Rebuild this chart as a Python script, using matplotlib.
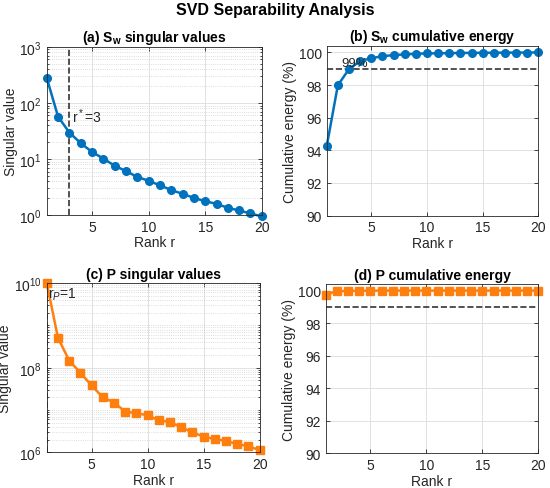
import matplotlib
matplotlib.use("Agg")
import matplotlib.pyplot as plt
from matplotlib.ticker import LogLocator, NullFormatter

# valeurs
rank = list(range(1, 21))
sw_sv = [280, 57, 29.7, 19.2, 13.4, 10.2, 7.6, 6.1, 4.8, 4.1,
         3.4, 2.8, 2.4, 2.03, 1.77, 1.59, 1.35, 1.21, 1.07, 0.95]
sw_cum = [94.25, 97.99, 98.98, 99.47, 99.65, 99.77, 99.84, 99.88, 99.92, 99.94,
          99.95, 99.96, 99.97, 99.975, 99.98, 99.985, 99.99, 99.993, 99.997, 100.0]
p_sv = [1.0e10, 5.1e8, 1.48e8, 7.6e7, 3.8e7, 2.0e7, 1.5e7, 9.2e6, 8.4e6, 7.5e6,
        5.7e6, 5.2e6, 3.9e6, 2.97e6, 2.35e6, 2.06e6, 1.85e6, 1.57e6, 1.39e6, 1.13e6]
p_cum = [99.75, 99.96, 99.98, 99.99, 99.995, 100, 100, 100, 100, 100,
         100, 100, 100, 100, 100, 100, 100, 100, 100, 100]
r_star = 3
r_p = 1
threshold = 99

blue = "#0072BD"
orange = "#FF7F0E"
txt = "#262626"

plt.rcParams["font.family"] = ["Liberation Sans", "DejaVu Sans"]
plt.rcParams["mathtext.fontset"] = "custom"
plt.rcParams["mathtext.rm"] = "Liberation Sans"
plt.rcParams["mathtext.it"] = "Liberation Sans:italic"
plt.rcParams["mathtext.bf"] = "Liberation Sans:bold"
plt.rcParams["font.size"] = 10


def style(ax, logy=False):
    for s in ax.spines.values():
        s.set_color("#262626")
        s.set_linewidth(0.6)
    ax.tick_params(direction="in", top=True, right=True, colors=txt,
                   labelsize=10, length=3, width=0.6)
    ax.grid(True, which="major", color="#dcdcdc", linewidth=0.6)
    if logy:
        ax.yaxis.set_minor_locator(LogLocator(base=10, subs=range(1, 10), numticks=20))
        ax.yaxis.set_minor_formatter(NullFormatter())
        ax.grid(True, which="minor", axis="y", color="#d0d0d0",
                linestyle=":", linewidth=0.6)
        ax.tick_params(which="minor", direction="in", right=True, length=1.5, width=0.5)
    ax.set_axisbelow(True)
    ax.set_xlim(1, 20)
    ax.set_xticks([5, 10, 15, 20])
    ax.set_xlabel("Rank r", color=txt, labelpad=1)


fig = plt.figure(figsize=(5.5, 4.89), dpi=100)
fig.suptitle("SVD Separability Analysis", fontsize=11.5, fontweight="bold", y=0.993)

# (a)
ax1 = fig.add_axes([0.085, 0.558, 0.391, 0.344])
ax1.set_yscale("log")
ax1.axvline(r_star, color="#333333", linestyle="--", linewidth=1.2)
ax1.plot(rank, sw_sv, "-o", color=blue, linewidth=1.8, markersize=5.5, clip_on=False)
ax1.set_ylim(1, 1000)
ax1.text(r_star + 0.2, 59, "r$^*$=3", fontsize=10, color=txt, va="center")
ax1.set_ylabel("Singular value", color=txt, labelpad=1)
ax1.set_title(r"(a) $\mathbf{S_w}$ singular values", fontsize=10, fontweight="bold", pad=4)
style(ax1, logy=True)

# (b)
ax2 = fig.add_axes([0.594, 0.557, 0.385, 0.347])
ax2.axhline(threshold, color="#333333", linestyle="--", linewidth=1.2)
ax2.plot(rank, sw_cum, "-o", color=blue, linewidth=1.8, markersize=5.5, clip_on=False)
ax2.set_ylim(90, 100.4)
ax2.set_yticks([90, 92, 94, 96, 98, 100])
ax2.text(2.3, 99.35, "99%", fontsize=9.5, color=txt, va="center")
ax2.set_ylabel("Cumulative energy (%)", color=txt, labelpad=1)
ax2.set_title(r"(b) $\mathbf{S_w}$ cumulative energy", fontsize=10, fontweight="bold", pad=4)
style(ax2)

# (c)
ax3 = fig.add_axes([0.085, 0.073, 0.387, 0.346])
ax3.set_yscale("log")
ax3.axvline(r_p, color="#333333", linestyle="--", linewidth=1.2)
ax3.plot(rank, p_sv, "-s", color=orange, linewidth=1.8, markersize=5.5, clip_on=False)
ax3.set_ylim(1e6, 1e10)
ax3.text(r_p + 0.15, 5.5e9, "r$_P$=1", fontsize=10, color=txt, va="center")
ax3.set_ylabel("Singular value", color=txt, labelpad=1)
ax3.set_title("(c) P singular values", fontsize=10, fontweight="bold", pad=4)
style(ax3, logy=True)
ax3.set_yticks([1e6, 1e8, 1e10])

# (d)
ax4 = fig.add_axes([0.592, 0.071, 0.387, 0.346])
ax4.axhline(threshold, color="#333333", linestyle="--", linewidth=1.2)
ax4.plot(rank, p_cum, "-s", color=orange, linewidth=1.8, markersize=5.5, clip_on=False)
ax4.set_ylim(90, 100.4)
ax4.set_yticks([90, 92, 94, 96, 98, 100])
ax4.set_ylabel("Cumulative energy (%)", color=txt, labelpad=1)
ax4.set_title("(d) P cumulative energy", fontsize=10, fontweight="bold", pad=4)
style(ax4)

fig.savefig("out.png", dpi=100)
